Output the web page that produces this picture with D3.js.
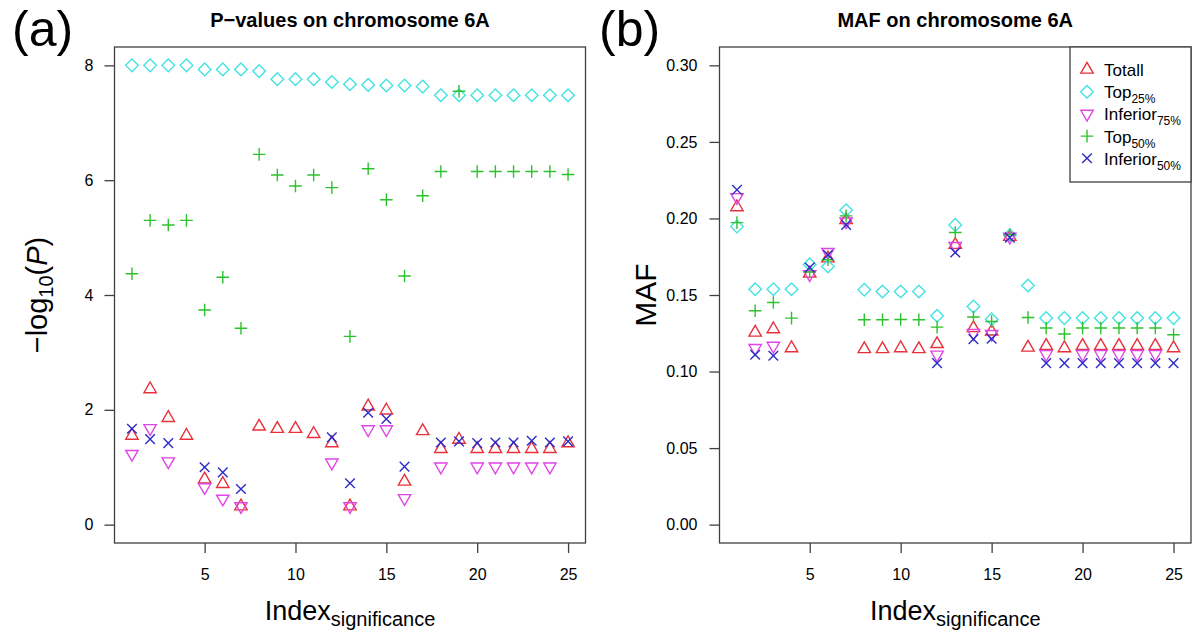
<!DOCTYPE html>
<html><head><meta charset="utf-8">
<script src="https://cdn.jsdelivr.net/npm/d3@7"></script>
<style>
body{margin:0;background:#fff}
svg{display:block}
text{font-family:"Liberation Sans",Arial,sans-serif;fill:#000}
</style>
</head><body>
<svg id="chart" width="1194" height="630"></svg>
<script>
// ---------------- data ----------------
const indexSig = [1,2,3,4,5,6,7,8,9,10,11,12,13,14,15,16,17,18,19,20,21,22,23,24,25];
const xTicks = [5,10,15,20,25];
const pTicks = [0,2,4,6,8];
const mafTicks = [0.00,0.05,0.10,0.15,0.20,0.25,0.30];
const seriesNames = ["Totall","Top","Inferior","Top","Inferior"];
const seriesSubs  = ["","25%","75%","50%","50%"];

// -log10(P)
const pTotall = [1.55,2.36,1.86,1.55,0.79,0.71,0.32,1.71,1.67,1.67,1.58,1.42,0.32,2.06,1.99,0.75,1.63,1.32,1.48,1.32,1.32,1.32,1.32,1.32,1.42];
const pTop25  = [8.00,8.00,8.00,8.00,7.93,7.93,7.93,7.90,7.76,7.76,7.76,7.71,7.67,7.66,7.65,7.65,7.63,7.48,7.48,7.48,7.48,7.48,7.48,7.48,7.48];
const pInf75  = [1.23,1.68,1.10,null,0.65,0.45,0.32,null,null,null,null,1.08,0.32,1.66,1.66,0.46,null,1.01,null,1.01,1.01,1.01,1.01,1.01,null];
const pTop50  = [4.37,5.30,5.22,5.30,3.74,4.31,3.42,6.45,6.09,5.90,6.09,5.87,3.28,6.20,5.66,4.33,5.73,6.15,7.55,6.15,6.15,6.15,6.15,6.15,6.10];
const pInf50  = [1.67,1.49,1.42,null,1.00,0.91,0.62,null,null,null,null,1.52,0.72,1.95,1.84,1.01,null,1.43,1.45,1.42,1.43,1.43,1.46,1.43,1.45];

// MAF
const mafTotall = [0.2074,0.1255,0.1277,0.1153,0.1640,0.1740,0.1990,0.1147,0.1147,0.1153,0.1147,0.1180,0.1828,0.1284,0.1262,0.1880,0.1157,0.1168,0.1153,0.1168,0.1168,0.1168,0.1168,0.1168,0.1153];
const mafTop25  = [0.1947,0.1538,0.1538,0.1538,0.1700,0.1686,0.2054,0.1534,0.1523,0.1523,0.1523,0.1364,0.1958,0.1425,0.1342,0.1890,0.1562,0.1349,0.1349,0.1349,0.1349,0.1349,0.1349,0.1349,0.1349];
const mafInf75  = [0.2139,0.1153,0.1168,null,0.1635,0.1780,0.1980,null,null,null,null,0.1110,0.1820,0.1251,0.1245,0.1880,null,0.1114,null,0.1114,0.1114,0.1114,0.1114,0.1114,null];
const mafTop50  = [0.1973,0.1397,0.1451,0.1349,0.1650,0.1730,0.2017,0.1338,0.1338,0.1340,0.1338,0.1290,0.1908,0.1356,0.1327,0.1895,0.1353,0.1284,0.1245,0.1284,0.1284,0.1284,0.1284,0.1284,0.1240];
const mafInf50  = [0.2187,0.1110,0.1103,null,0.1680,0.1762,0.1958,null,null,null,null,0.1055,0.1778,0.1212,0.1214,0.1875,null,0.1055,0.1055,0.1055,0.1055,0.1055,0.1055,0.1055,0.1055];

// ---------------- styles ----------------
const colors = ["#E8313A","#45E2E2","#E046E6","#2DC22D","#2B2BC8"];
const shapes = ["tri","diamond","tridown","plus","cross"];
const S = 4.6;
function markerPath(shape){
  const r=1.555*S, yc=0.778*S, xc=1.347*S, d=6.3, p=6.3, c=4.8;
  switch(shape){
    case "tri": return `M0,${-r}L${xc},${yc}L${-xc},${yc}Z`;
    case "tridown": return `M0,${r}L${xc},${-yc}L${-xc},${-yc}Z`;
    case "diamond": return `M0,${-d}L${d},0L0,${d}L${-d},0Z`;
    case "plus": return `M${-p},0H${p}M0,${-p}V${p}`;
    case "cross": return `M${-c},${-c}L${c},${c}M${-c},${c}L${c},${-c}`;
  }
}

const svg = d3.select("#chart");
const plotTop = 47, plotBottom = 543;
const boxColor = "#404040";

function drawPanel(cfg){
  const x = d3.scaleLinear().domain([0.04,25.96]).range([cfg.left,cfg.right]);
  const ext = (cfg.ymax-cfg.ymin)*0.04;
  const y = d3.scaleLinear().domain([cfg.ymin-ext,cfg.ymax+ext]).range([plotBottom,plotTop]);
  const g = svg.append("g");

  const ya = g.append("g").attr("transform",`translate(${cfg.left},0)`)
    .call(d3.axisLeft(y).tickValues(cfg.yTicks).tickSize(10).tickPadding(cfg.yPad).tickFormat(cfg.yFmt));
  ya.select(".domain").remove();
  ya.selectAll("line").attr("stroke",boxColor).attr("stroke-width",1.3);
  ya.selectAll("text").attr("font-size",16).attr("font-family","Liberation Sans, Arial, sans-serif");

  const xa = g.append("g").attr("transform",`translate(0,${plotBottom})`)
    .call(d3.axisBottom(x).tickValues(xTicks).tickSize(10).tickPadding(16).tickFormat(d3.format("d")));
  xa.select(".domain").remove();
  xa.selectAll("line").attr("stroke",boxColor).attr("stroke-width",1.3);
  xa.selectAll("text").attr("font-size",16).attr("font-family","Liberation Sans, Arial, sans-serif");

  g.append("rect").attr("x",cfg.left).attr("y",plotTop).attr("width",cfg.right-cfg.left).attr("height",plotBottom-plotTop)
    .attr("fill","none").attr("stroke",boxColor).attr("stroke-width",1.3);

  cfg.series.forEach((arr,si)=>{
    g.append("g").selectAll("path")
      .data(indexSig.map((ix,i)=>({ix,v:arr[i]})).filter(d=>d.v!==null))
      .join("path")
      .attr("d",markerPath(shapes[si]))
      .attr("transform",d=>`translate(${x(d.ix)},${y(d.v)})`)
      .attr("fill","none").attr("stroke",colors[si]).attr("stroke-width",1.4);
  });

  const cx = (cfg.left+cfg.right)/2;
  g.append("text").attr("x",cx).attr("y",27).attr("text-anchor","middle")
    .attr("font-size",20).attr("font-weight","bold").text(cfg.title);
  const xl = g.append("text").attr("x",cx).attr("y",620).attr("text-anchor","middle").attr("font-size",27);
  xl.append("tspan").text("Index");
  xl.append("tspan").attr("font-size",20).attr("dy",6).text("significance");
  g.append("text").attr("x",cfg.letterX).attr("y",46).attr("font-size",50)
    .attr("font-family","Liberation Sans, Arial, sans-serif").text(cfg.letter);
  return {x,y,g};
}

drawPanel({left:114.5,right:585.5,ymin:0,ymax:8,yTicks:pTicks,yPad:11,yFmt:d3.format("d"),
  series:[pTotall,pTop25,pInf75,pTop50,pInf50],title:"P\u2212values on chromosome 6A",letter:"(a)",letterX:12});
drawPanel({left:719.5,right:1191,ymin:0,ymax:0.30,yTicks:mafTicks,yPad:12,yFmt:d3.format(".2f"),
  series:[mafTotall,mafTop25,mafInf75,mafTop50,mafInf50],title:"MAF on chromosome 6A",letter:"(b)",letterX:599});

const yl = svg.append("text").attr("transform","translate(47,295) rotate(-90)")
  .attr("text-anchor","middle").attr("font-size",29);
yl.append("tspan").text("\u2212log");
yl.append("tspan").attr("font-size",20).attr("dy",6).text("10");
yl.append("tspan").attr("dy",-6).text("(");
yl.append("tspan").attr("font-style","italic").text("P");
yl.append("tspan").text(")");

svg.append("text").attr("transform","translate(656,295) rotate(-90)")
  .attr("text-anchor","middle").attr("font-size",30).text("MAF");

const lg = svg.append("g");
lg.append("rect").attr("x",1070).attr("y",47).attr("width",121).attr("height",135)
  .attr("fill","#fff").attr("stroke",boxColor).attr("stroke-width",1.3);
seriesNames.forEach((nm,i)=>{
  const cy = 69.5 + i*22.2;
  lg.append("path").attr("d",markerPath(shapes[i])).attr("transform",`translate(1087,${cy})`)
    .attr("fill","none").attr("stroke",colors[i]).attr("stroke-width",1.4);
  const t = lg.append("text").attr("x",1104).attr("y",cy+6.5).attr("font-size",17);
  t.append("tspan").text(nm);
  if(seriesSubs[i]) t.append("tspan").attr("font-size",12).attr("dy",5).text(seriesSubs[i]);
});
</script>
</body></html>
